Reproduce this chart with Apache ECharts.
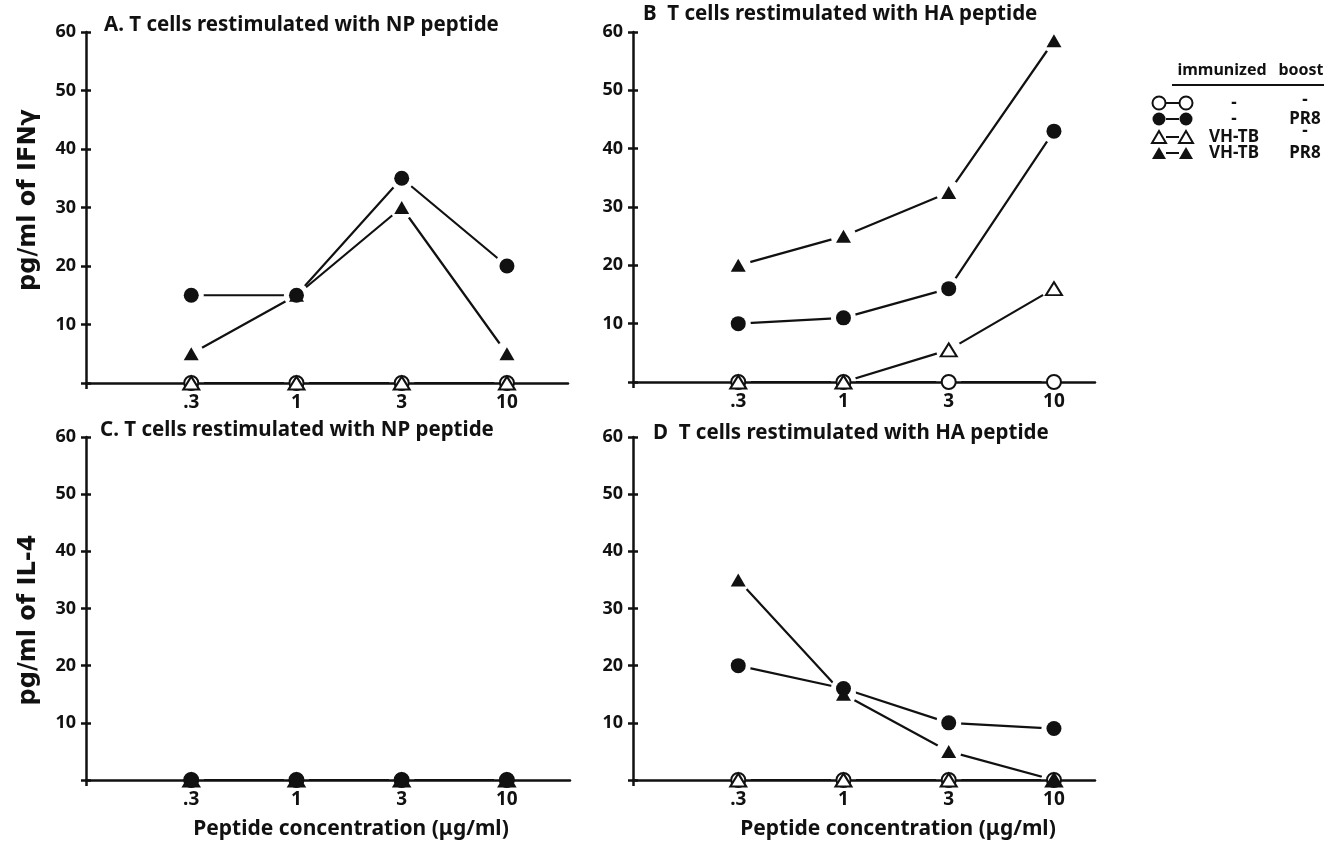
<!DOCTYPE html>
<html>
<head>
<meta charset="utf-8">
<script src="https://cdn.jsdelivr.net/npm/echarts@6/dist/echarts.min.js"></script>
<style>
  html, body { margin: 0; padding: 0; background: #fff; }
  #chart { width: 1336px; height: 851px; }
</style>
</head>
<body>
<div id="chart"></div>
<script>
// Peptide concentrations (µg/ml) along each x axis
const concLabels = ['.3', '1', '3', '10'];

// Group labels: immunization / boost
const immunized = ['-', '-', 'VH-TB', 'VH-TB'];
const boost = ['-', 'PR8', '-', 'PR8'];

// IFN-gamma (pg/ml), NP peptide restimulation
const ifnNP_none = [0, 0, 0, 0];
const ifnNP_pr8 = [15, 15, 35, 20];
const ifnNP_vhtb = [0, 0, 0, 0];
const ifnNP_vhtbPr8 = [5, 15, 30, 5];

// IFN-gamma (pg/ml), HA peptide restimulation
const ifnHA_none = [0, 0, 0, 0];
const ifnHA_pr8 = [10, 11, 16, 43];
const ifnHA_vhtb = [0, 0, 5.5, 16];
const ifnHA_vhtbPr8 = [20, 25, 32.5, 58.5];

// IL-4 (pg/ml), NP peptide restimulation
const il4NP_none = [0, 0, 0, 0];
const il4NP_pr8 = [0, 0, 0, 0];
const il4NP_vhtb = [0, 0, 0, 0];
const il4NP_vhtbPr8 = [0, 0, 0, 0];

// IL-4 (pg/ml), HA peptide restimulation
const il4HA_none = [0, 0, 0, 0];
const il4HA_pr8 = [20, 16, 10, 9];
const il4HA_vhtb = [0, 0, 0, 0];
const il4HA_vhtbPr8 = [35, 15, 5, 0];

const panelTitles = [
  'A. T cells restimulated with NP peptide',
  'B  T cells restimulated with HA peptide',
  'C. T cells restimulated with NP peptide',
  'D  T cells restimulated with HA peptide'
];
const yNames = ['pg/ml of IFNγ', 'pg/ml of IL-4'];
const xName = 'Peptide concentration (μg/ml)';

const panelData = [
  [ifnNP_none, ifnNP_pr8, ifnNP_vhtb, ifnNP_vhtbPr8],
  [ifnHA_none, ifnHA_pr8, ifnHA_vhtb, ifnHA_vhtbPr8],
  [il4NP_none, il4NP_pr8, il4NP_vhtb, il4NP_vhtbPr8],
  [il4HA_none, il4HA_pr8, il4HA_vhtb, il4HA_vhtbPr8]
];

// ---- styling / layout ----
const INK = '#111';
const FONT = 'Noto Sans';
const grids = [
  { left: 86,  top: 32,  width: 482, height: 351 },
  { left: 633, top: 32,  width: 462, height: 350 },
  { left: 86,  top: 437, width: 484, height: 343 },
  { left: 633, top: 437, width: 462, height: 343 }
];
const xMax = [4.58, 4.39, 4.6, 4.39];
const xNameShift = [0, 0, 46, 68];
const titlePos = [
  { left: 104, top: 15 },
  { left: 643, top: 4 },
  { left: 100, top: 420 },
  { left: 653, top: 423 }
];

// marker styles for: open circle, filled circle, open triangle, filled triangle
const markers = [
  { symbol: 'circle',   size: 14,       filled: false },
  { symbol: 'circle',   size: 15,       filled: true },
  { symbol: 'triangle', size: [16, 13], filled: false },
  { symbol: 'triangle', size: [15, 13], filled: true }
];

const xAxes = [], yAxes = [], series = [];
panelData.forEach((groups, p) => {
  const bottomRow = p >= 2;
  xAxes.push({
    gridIndex: p, type: 'value', min: 0, max: xMax[p], z: 4,
    axisLine: { lineStyle: { color: INK, width: 2.5 } },
    axisTick: { show: true, customValues: [0], length: 6, lineStyle: { color: INK, width: 2.5 } },
    axisLabel: {
      customValues: [1, 2, 3, 4],
      formatter: v => concLabels[Math.round(v) - 1] || '',
      color: INK, fontFamily: FONT, fontSize: 19, fontWeight: 'bold', margin: 10
    },
    splitLine: { show: false },
    name: bottomRow ? xName : '',
    nameLocation: 'middle', nameGap: 39,
    nameTextStyle: {
      color: INK, fontFamily: FONT, fontSize: 21, fontWeight: 'bold',
      padding: [0, 0, 0, xNameShift[p]]
    }
  });
  // main y axis (labels + outside ticks)
  yAxes.push({
    gridIndex: p, type: 'value', min: 0, max: 60, interval: 10, z: 4,
    axisLine: { show: true, lineStyle: { color: INK, width: 2.5 } },
    axisTick: { show: true, length: 5, lineStyle: { color: INK, width: 2.5 } },
    axisLabel: {
      formatter: v => (v === 0 ? '' : String(v)),
      color: INK, fontFamily: FONT, fontSize: 18, fontWeight: 'bold', margin: 10
    },
    splitLine: { show: false }
  });
  // companion y axis giving the ticks that cross to the inside
  yAxes.push({
    gridIndex: p, type: 'value', min: 0, max: 60, interval: 10, position: 'left', z: 4,
    axisLine: { show: false },
    axisTick: { show: true, inside: true, length: 5, lineStyle: { color: INK, width: 2.5 } },
    axisLabel: { show: false },
    splitLine: { show: false }
  });

  groups.forEach(vals => {
    const pts = vals.map((v, k) => [k + 1, v]);
    series.push({
      type: 'line', xAxisIndex: p, yAxisIndex: p * 2, data: pts,
      symbol: 'none', silent: true, z: 2,
      lineStyle: { color: INK, width: 2.2 }
    });
    // white ring that opens a small gap where lines meet a marker
    series.push({
      type: 'scatter', xAxisIndex: p, yAxisIndex: p * 2, data: pts,
      symbol: 'circle', symbolSize: 25, silent: true, z: 3,
      itemStyle: { color: '#fff', opacity: 1 }
    });
  });
  groups.forEach((vals, s) => {
    const pts = vals.map((v, k) => [k + 1, v]);
    const m = markers[s];
    series.push({
      type: 'scatter', xAxisIndex: p, yAxisIndex: p * 2, data: pts,
      symbol: m.symbol, symbolSize: m.size, silent: true, z: 5,
      itemStyle: m.filled
        ? { color: INK, opacity: 1 }
        : { color: '#fff', borderColor: INK, borderWidth: 2, opacity: 1 }
    });
  });
});

// y axis names
const graphics = [];
[[29, 200, yNames[0]], [29, 620, yNames[1]]].forEach(([x, y, t]) => {
  graphics.push({
    type: 'text', x, y, rotation: Math.PI / 2, z: 10,
    style: { text: t, fill: INK, font: 'bold 24px "DejaVu Sans"', align: 'center', verticalAlign: 'middle' }
  });
});

// legend drawn as a small table: marker—marker, immunized, boost
const legendRows = [103, 119, 137, 153];
const LFONT = 'bold 17px "Noto Sans"';
const HFONT = 'bold 16px "Noto Sans"';
const tri = (cx, cy, w, h) => [[cx, cy - h / 2], [cx + w / 2, cy + h / 2], [cx - w / 2, cy + h / 2]];
legendRows.forEach((y, s) => {
  const m = markers[s];
  const style = m.filled ? { fill: INK } : { fill: '#fff', stroke: INK, lineWidth: 2 };
  [1159, 1186].forEach(cx => {
    if (m.symbol === 'circle') {
      graphics.push({ type: 'circle', shape: { cx, cy: y, r: 6.5 }, style, z: 10 });
    } else {
      graphics.push({ type: 'polygon', shape: { points: tri(cx, y, 14, 12) }, style, z: 10 });
    }
  });
  graphics.push({ type: 'line', shape: { x1: 1166, y1: y, x2: 1179, y2: y }, style: { stroke: INK, lineWidth: 2 }, z: 10 });
  graphics.push({ type: 'text', x: 1234, y, style: { text: immunized[s], fill: INK, font: LFONT, align: 'center', verticalAlign: 'middle' }, z: 10 });
  graphics.push({ type: 'text', x: 1305, y: s === 0 ? 100 : s === 2 ? 131 : y, style: { text: boost[s], fill: INK, font: LFONT, align: 'center', verticalAlign: 'middle' }, z: 10 });
});
graphics.push({ type: 'text', x: 1222, y: 70, style: { text: 'immunized', fill: INK, font: HFONT, align: 'center', verticalAlign: 'middle' }, z: 10 });
graphics.push({ type: 'text', x: 1301, y: 70, style: { text: 'boost', fill: INK, font: HFONT, align: 'center', verticalAlign: 'middle' }, z: 10 });
graphics.push({ type: 'line', shape: { x1: 1172, y1: 85, x2: 1324, y2: 85 }, style: { stroke: INK, lineWidth: 2 }, z: 10 });

const chart = echarts.init(document.getElementById('chart'), null, { renderer: 'canvas' });
chart.setOption({
  backgroundColor: '#fff',
  animation: false,
  title: panelTitles.map((t, p) => ({
    text: t, left: titlePos[p].left, top: titlePos[p].top, padding: 0,
    textStyle: { color: INK, fontFamily: FONT, fontSize: 20.5, fontWeight: 'bold' }
  })),
  grid: grids,
  xAxis: xAxes,
  yAxis: yAxes,
  series: series,
  graphic: graphics
});
</script>
</body>
</html>
